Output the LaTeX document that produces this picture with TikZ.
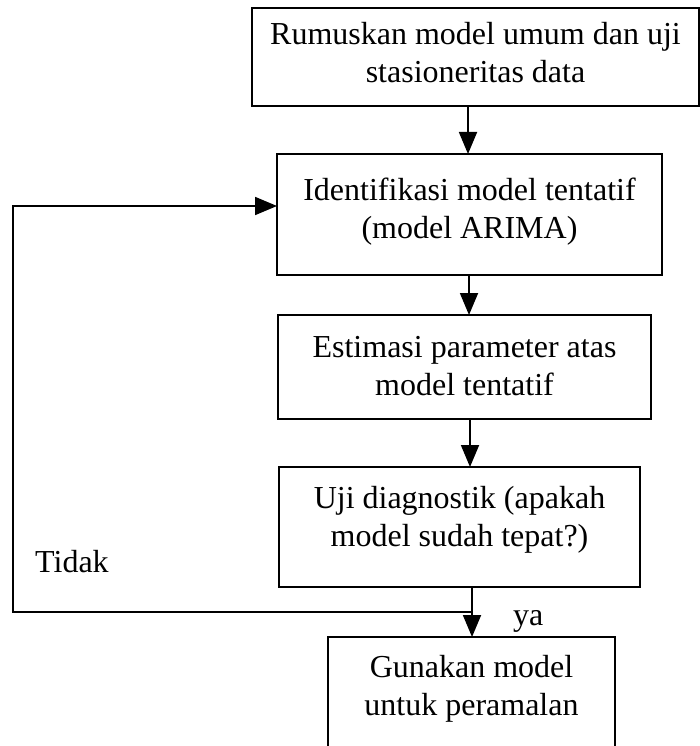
\documentclass[tikz,border=0pt]{standalone}
\usepackage{fontspec}
\setmainfont{Liberation Serif}
\usetikzlibrary{arrows.meta}
\tikzset{
  flowbox/.style={draw=black, line width=2pt, inner sep=0pt, outer sep=0pt, anchor=north west},
  arr/.style={line width=1.8pt, -{Triangle[width=18pt,length=22pt]}},
  plainline/.style={line width=1.8pt, line join=miter},
  lbl/.style={inner sep=0pt, anchor=base west, font=\fontsize{32}{38}\selectfont}
}
\newcommand{\boxtext}[4]{\parbox[c][#2pt][t]{#1pt}{\fontsize{32}{38}\selectfont\centering\rule{0pt}{#3pt}#4}}
\begin{document}
\begin{tikzpicture}[x=1pt,y=-1pt]
\useasboundingbox (0,0) rectangle (700,746);
\fill[white] (0,0) rectangle (700,746);
\clip (0,0) rectangle (700,746);
\node[flowbox] (b1) at (252,8) {\boxtext{447}{98}{37}{Rumuskan model umum dan uji\\stasioneritas data}};
\node[flowbox] (b2) at (277,154) {\boxtext{385}{121}{46}{Identifikasi model tentatif\\(model ARIMA)}};
\node[flowbox] (b3) at (278,315) {\boxtext{373}{104}{42}{Estimasi parameter atas\\model tentatif}};
\node[flowbox] (b4) at (279,467) {\boxtext{361}{120}{41}{Uji diagnostik (apakah\\model sudah tepat?)}};
\node[flowbox] (b5) at (328,637) {\boxtext{287}{150}{40}{Gunakan model\\untuk peramalan}};
\coordinate (c1) at (468,0);
\coordinate (c2) at (469,0);
\coordinate (c3) at (470,0);
\coordinate (j) at (472,612);
\coordinate (l1) at (13,612);
\coordinate (l2) at (13,206);
\draw[arr] (b1.south -| c1) -- (b2.north -| c1);
\draw[arr] (b2.south -| c2) -- (b3.north -| c2);
\draw[arr] (b3.south -| c3) -- (b4.north -| c3);
\draw[arr] (b4.south -| j) -- (b5.north -| j);
\draw[arr, line join=miter] (j) -- (l1) -- (l2) -- (b2.west |- l2);
\node[lbl] (tidak) at (35,572) {Tidak};
\node[lbl] (ya) at (513,625) {ya};
\end{tikzpicture}
\end{document}
